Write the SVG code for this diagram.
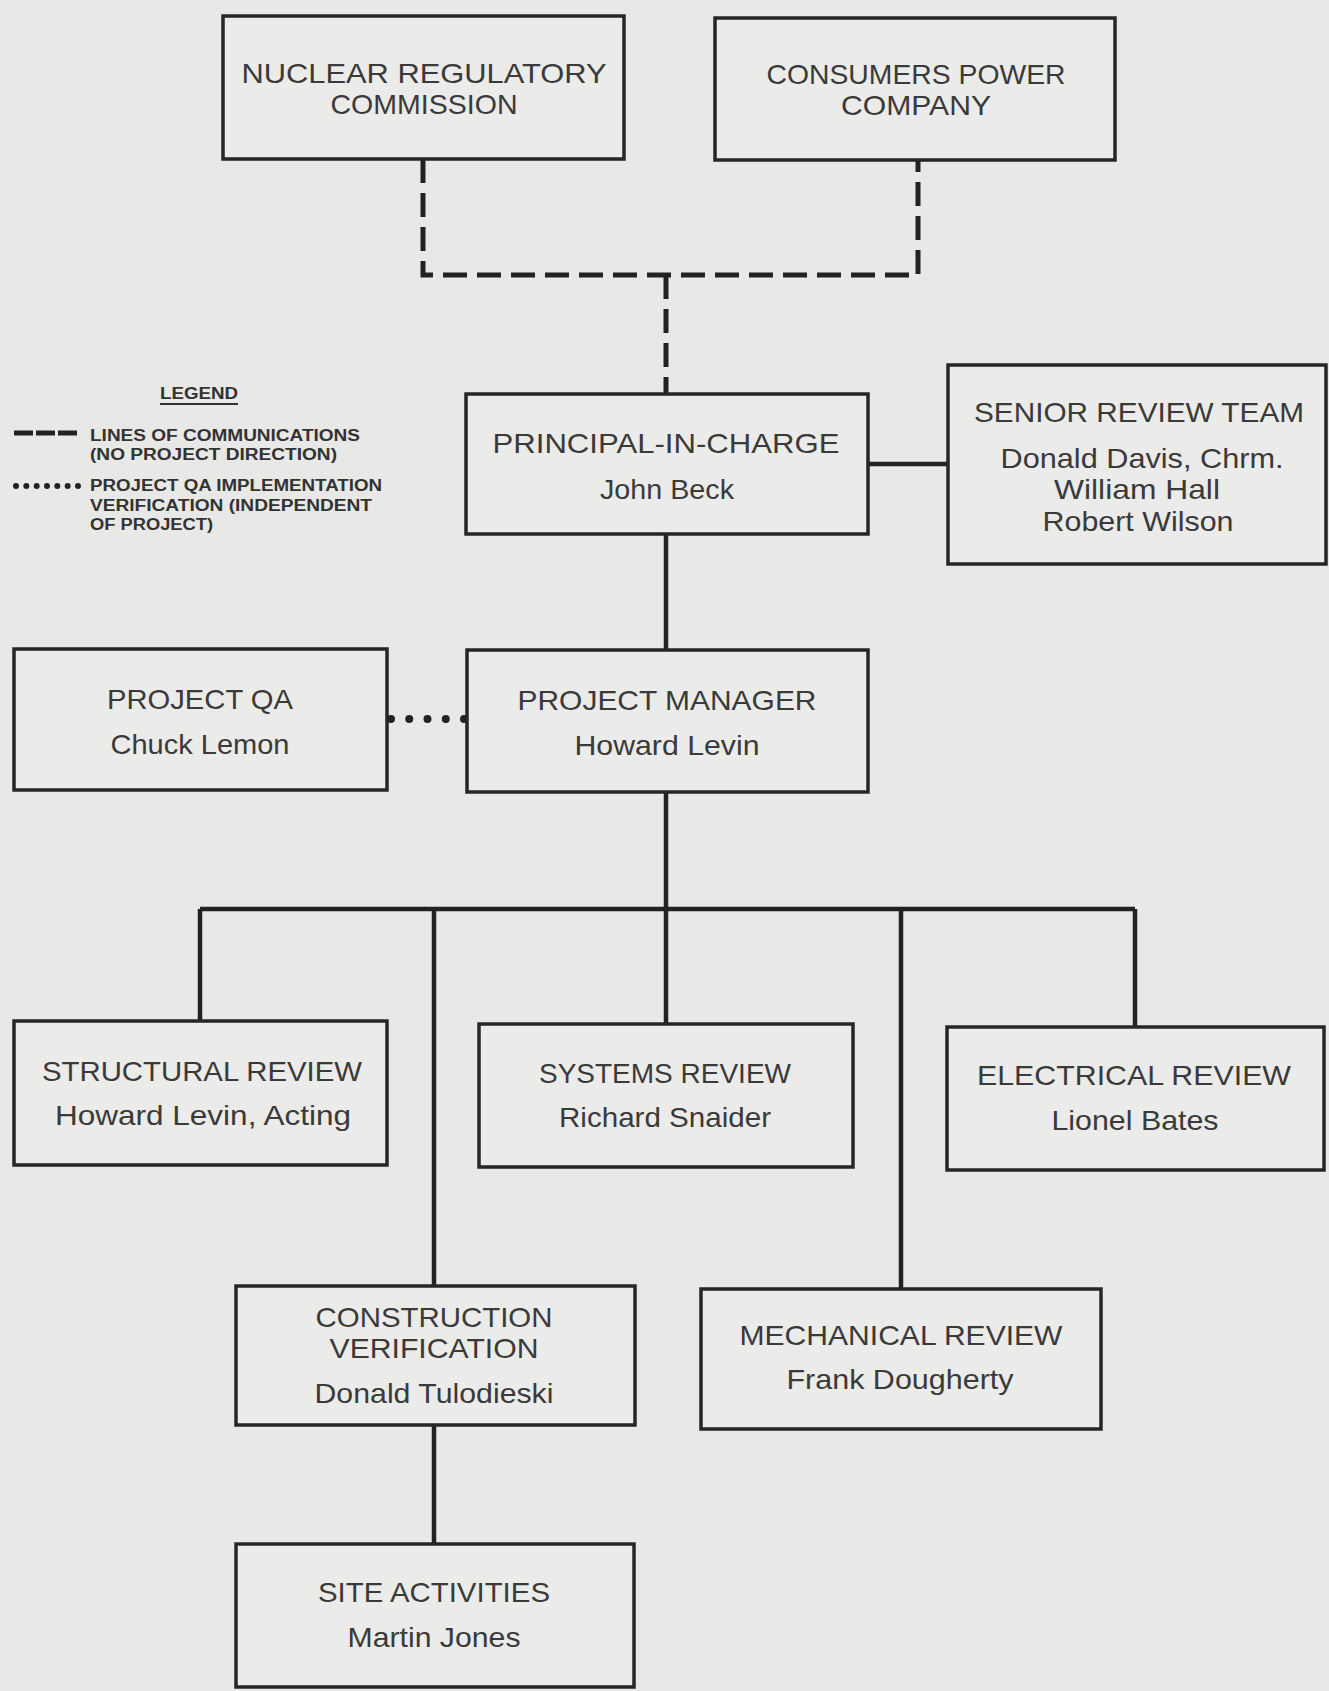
<svg xmlns="http://www.w3.org/2000/svg" width="1329" height="1691" viewBox="0 0 1329 1691">
<style>
.bg{fill:#e8e8e6}
.box{fill:#ebebe9;stroke:#262626;stroke-width:3.5}
.t{font-family:"Liberation Sans",Arial,sans-serif;font-size:28px;fill:#3a3a3a;text-anchor:middle}
.lg{font-family:"Liberation Sans",Arial,sans-serif;font-size:16px;font-weight:bold;fill:#333}
.solid{fill:none;stroke:#222;stroke-width:4.5}
.dash{fill:none;stroke:#222;stroke-width:5;stroke-dasharray:24 10}
.dot{fill:none;stroke:#222;stroke-width:8;stroke-linecap:round;stroke-dasharray:0 18.25}
</style>
<rect class="bg" x="0" y="0" width="1329" height="1691"/>

<g id="connectors">
  <path class="dash" d="M423,159 V275 H918 V160"/>
  <path class="dash" d="M666,275 V394"/>
  <path class="solid" d="M868,464 H948"/>
  <path class="solid" d="M666,534 V650"/>
  <path class="solid" d="M666,792 V909"/>
  <path class="solid" d="M200,909 H1135"/>
  <path class="solid" d="M200,909 V1021"/>
  <path class="solid" d="M434,909 V1286"/>
  <path class="solid" d="M666,909 V1025"/>
  <path class="solid" d="M901,909 V1289"/>
  <path class="solid" d="M1135,909 V1027"/>
  <path class="solid" d="M434,1425 V1544"/>
  <path class="dot" d="M391,719 H466"/>
</g>

<g id="legend">
  <text class="lg" x="160" y="399" textLength="78" lengthAdjust="spacingAndGlyphs">LEGEND</text>
  <line x1="160" y1="404" x2="238" y2="404" stroke="#333" stroke-width="2"/>
  <path d="M14,433 H78" fill="none" stroke="#222" stroke-width="5" stroke-dasharray="19 3"/>
  <text class="lg" x="90" y="441" textLength="270" lengthAdjust="spacingAndGlyphs">LINES OF COMMUNICATIONS</text>
  <text class="lg" x="90" y="460" textLength="247" lengthAdjust="spacingAndGlyphs">(NO PROJECT DIRECTION)</text>
  <path d="M16,486 H79" fill="none" stroke="#222" stroke-width="6" stroke-linecap="round" stroke-dasharray="0 10.33"/>
  <text class="lg" x="90" y="491" textLength="292" lengthAdjust="spacingAndGlyphs">PROJECT QA IMPLEMENTATION</text>
  <text class="lg" x="90" y="511" textLength="282" lengthAdjust="spacingAndGlyphs">VERIFICATION (INDEPENDENT</text>
  <text class="lg" x="90" y="530" textLength="123" lengthAdjust="spacingAndGlyphs">OF PROJECT)</text>
</g>

<g id="nrc">
  <rect class="box" x="223" y="16" width="401" height="143"/>
  <text class="t" x="424" y="83" textLength="365" lengthAdjust="spacingAndGlyphs">NUCLEAR REGULATORY</text>
  <text class="t" x="424" y="114" textLength="187" lengthAdjust="spacingAndGlyphs">COMMISSION</text>
</g>
<g id="cpc">
  <rect class="box" x="715" y="18" width="400" height="142"/>
  <text class="t" x="916" y="84" textLength="299" lengthAdjust="spacingAndGlyphs">CONSUMERS POWER</text>
  <text class="t" x="916" y="115" textLength="150" lengthAdjust="spacingAndGlyphs">COMPANY</text>
</g>
<g id="pic">
  <rect class="box" x="466" y="394" width="402" height="140"/>
  <text class="t" x="666" y="453" textLength="347" lengthAdjust="spacingAndGlyphs">PRINCIPAL-IN-CHARGE</text>
  <text class="t" x="667" y="499" textLength="134" lengthAdjust="spacingAndGlyphs">John Beck</text>
</g>
<g id="srt">
  <rect class="box" x="948" y="365" width="378" height="199"/>
  <text class="t" x="1139" y="422" textLength="330" lengthAdjust="spacingAndGlyphs">SENIOR REVIEW TEAM</text>
  <text class="t" x="1142" y="468" textLength="283" lengthAdjust="spacingAndGlyphs">Donald Davis, Chrm.</text>
  <text class="t" x="1137" y="499" textLength="166" lengthAdjust="spacingAndGlyphs">William Hall</text>
  <text class="t" x="1138" y="531" textLength="191" lengthAdjust="spacingAndGlyphs">Robert Wilson</text>
</g>
<g id="qa">
  <rect class="box" x="14" y="649" width="373" height="141"/>
  <text class="t" x="200" y="709" textLength="186" lengthAdjust="spacingAndGlyphs">PROJECT QA</text>
  <text class="t" x="200" y="754" textLength="179" lengthAdjust="spacingAndGlyphs">Chuck Lemon</text>
</g>
<g id="pm">
  <rect class="box" x="467" y="650" width="401" height="142"/>
  <text class="t" x="667" y="710" textLength="299" lengthAdjust="spacingAndGlyphs">PROJECT MANAGER</text>
  <text class="t" x="667" y="755" textLength="185" lengthAdjust="spacingAndGlyphs">Howard Levin</text>
</g>
<g id="structural">
  <rect class="box" x="14" y="1021" width="373" height="144"/>
  <text class="t" x="202" y="1081" textLength="320" lengthAdjust="spacingAndGlyphs">STRUCTURAL REVIEW</text>
  <text class="t" x="203" y="1125" textLength="296" lengthAdjust="spacingAndGlyphs">Howard Levin, Acting</text>
</g>
<g id="systems">
  <rect class="box" x="479" y="1024" width="374" height="143"/>
  <text class="t" x="665" y="1083" textLength="252" lengthAdjust="spacingAndGlyphs">SYSTEMS REVIEW</text>
  <text class="t" x="665" y="1127" textLength="212" lengthAdjust="spacingAndGlyphs">Richard Snaider</text>
</g>
<g id="electrical">
  <rect class="box" x="947" y="1027" width="377" height="143"/>
  <text class="t" x="1134" y="1085" textLength="314" lengthAdjust="spacingAndGlyphs">ELECTRICAL REVIEW</text>
  <text class="t" x="1135" y="1130" textLength="167" lengthAdjust="spacingAndGlyphs">Lionel Bates</text>
</g>
<g id="construction">
  <rect class="box" x="236" y="1286" width="399" height="139"/>
  <text class="t" x="434" y="1327" textLength="237" lengthAdjust="spacingAndGlyphs">CONSTRUCTION</text>
  <text class="t" x="434" y="1358" textLength="209" lengthAdjust="spacingAndGlyphs">VERIFICATION</text>
  <text class="t" x="434" y="1403" textLength="239" lengthAdjust="spacingAndGlyphs">Donald Tulodieski</text>
</g>
<g id="mechanical">
  <rect class="box" x="701" y="1289" width="400" height="140"/>
  <text class="t" x="901" y="1345" textLength="323" lengthAdjust="spacingAndGlyphs">MECHANICAL REVIEW</text>
  <text class="t" x="900" y="1389" textLength="227" lengthAdjust="spacingAndGlyphs">Frank Dougherty</text>
</g>
<g id="site">
  <rect class="box" x="236" y="1544" width="398" height="143"/>
  <text class="t" x="434" y="1602" textLength="232" lengthAdjust="spacingAndGlyphs">SITE ACTIVITIES</text>
  <text class="t" x="434" y="1647" textLength="173" lengthAdjust="spacingAndGlyphs">Martin Jones</text>
</g>
</svg>
